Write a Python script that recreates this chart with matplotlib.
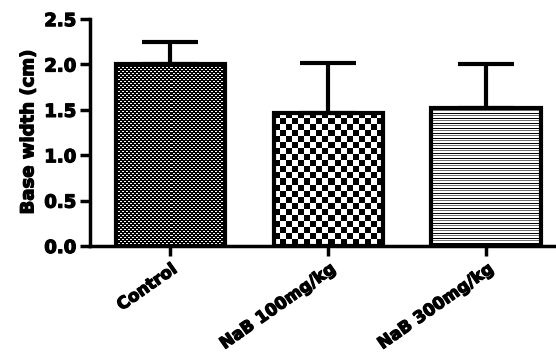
import matplotlib.pyplot as plt
import matplotlib.patheffects as pe
import numpy as np

groups = ["Control", "NaB 100mg/kg", "NaB 300mg/kg"]
means = [2.0, 1.47, 1.52]
sds = [0.25, 0.55, 0.48]
y_ticks = [0.0, 0.5, 1.0, 1.5, 2.0, 2.5]

plt.rcParams['font.family'] = ['DejaVu Sans']
plt.rcParams['font.weight'] = 'bold'

fig = plt.figure(figsize=[5.56, 3.54], dpi=100)
ax = fig.add_axes([0.162, 0.305, 0.838, 0.641])
ax.set_xlim(-0.506, 2.443)
ax.set_ylim(0, 2.5)


def texture(kind, h, w):
    r, c = np.indices((h, w))
    img = np.ones((h, w, 3))
    if kind == 0:
        # fine dark pattern with small white dashes
        white = ((r % 4 == 1) & (c % 4 < 2)) | ((r % 4 == 3) & (c % 4 >= 2))
        img[~white] = 0.0
    elif kind == 1:
        # coarse checkerboard
        black = ((r // 6) + (c // 6)) % 2 == 0
        img[black] = 0.0
    else:
        # horizontal lines
        img[r % 5 == 0] = 0.0
        img[r % 5 == 2] = 0.45
    return img


x = np.arange(len(groups))
width = 0.69
bars = ax.bar(x, means, width, facecolor='none', edgecolor='black', linewidth=3, zorder=2)
for k, b in enumerate(bars):
    x0, y0 = b.get_x(), b.get_y()
    x1, y1 = x0 + b.get_width(), y0 + b.get_height()
    p0 = ax.transData.transform((x0, y0))
    p1 = ax.transData.transform((x1, y1))
    w = max(int(round(p1[0] - p0[0])), 1)
    h = max(int(round(p1[1] - p0[1])), 1)
    ax.imshow(texture(k, h, w), extent=[x0, x1, y0, y1], origin='upper',
              interpolation='nearest', aspect='auto', zorder=1.5)

ax.errorbar(x, means, yerr=[np.zeros(len(means)), sds], fmt='none', ecolor='black',
            elinewidth=3, capsize=20, capthick=3, zorder=3)

ax.set_aspect('auto')
ax.set_xlim(-0.506, 2.443)
ax.set_ylim(0, 2.5)

for s in ['top', 'right']:
    ax.spines[s].set_visible(False)
for s in ['left', 'bottom']:
    ax.spines[s].set_linewidth(2.5)

heavy = [pe.withStroke(linewidth=0.9, foreground='black')]
ax.set_yticks(y_ticks)
ax.set_yticklabels([f"{v:.1f}" for v in y_ticks], fontsize=13, fontweight='bold',
                   path_effects=heavy)
ax.set_xticks(x)
ax.set_xticklabels(groups, rotation=35, ha='right', rotation_mode='anchor',
                   fontsize=12, fontweight='bold', path_effects=heavy)
ax.tick_params(axis='both', direction='out', length=7, width=2.5, pad=3)
ax.set_ylabel("Base width (cm)", fontsize=13, fontweight='bold', labelpad=5,
              path_effects=heavy)

fig.savefig("out.png", dpi=100)
